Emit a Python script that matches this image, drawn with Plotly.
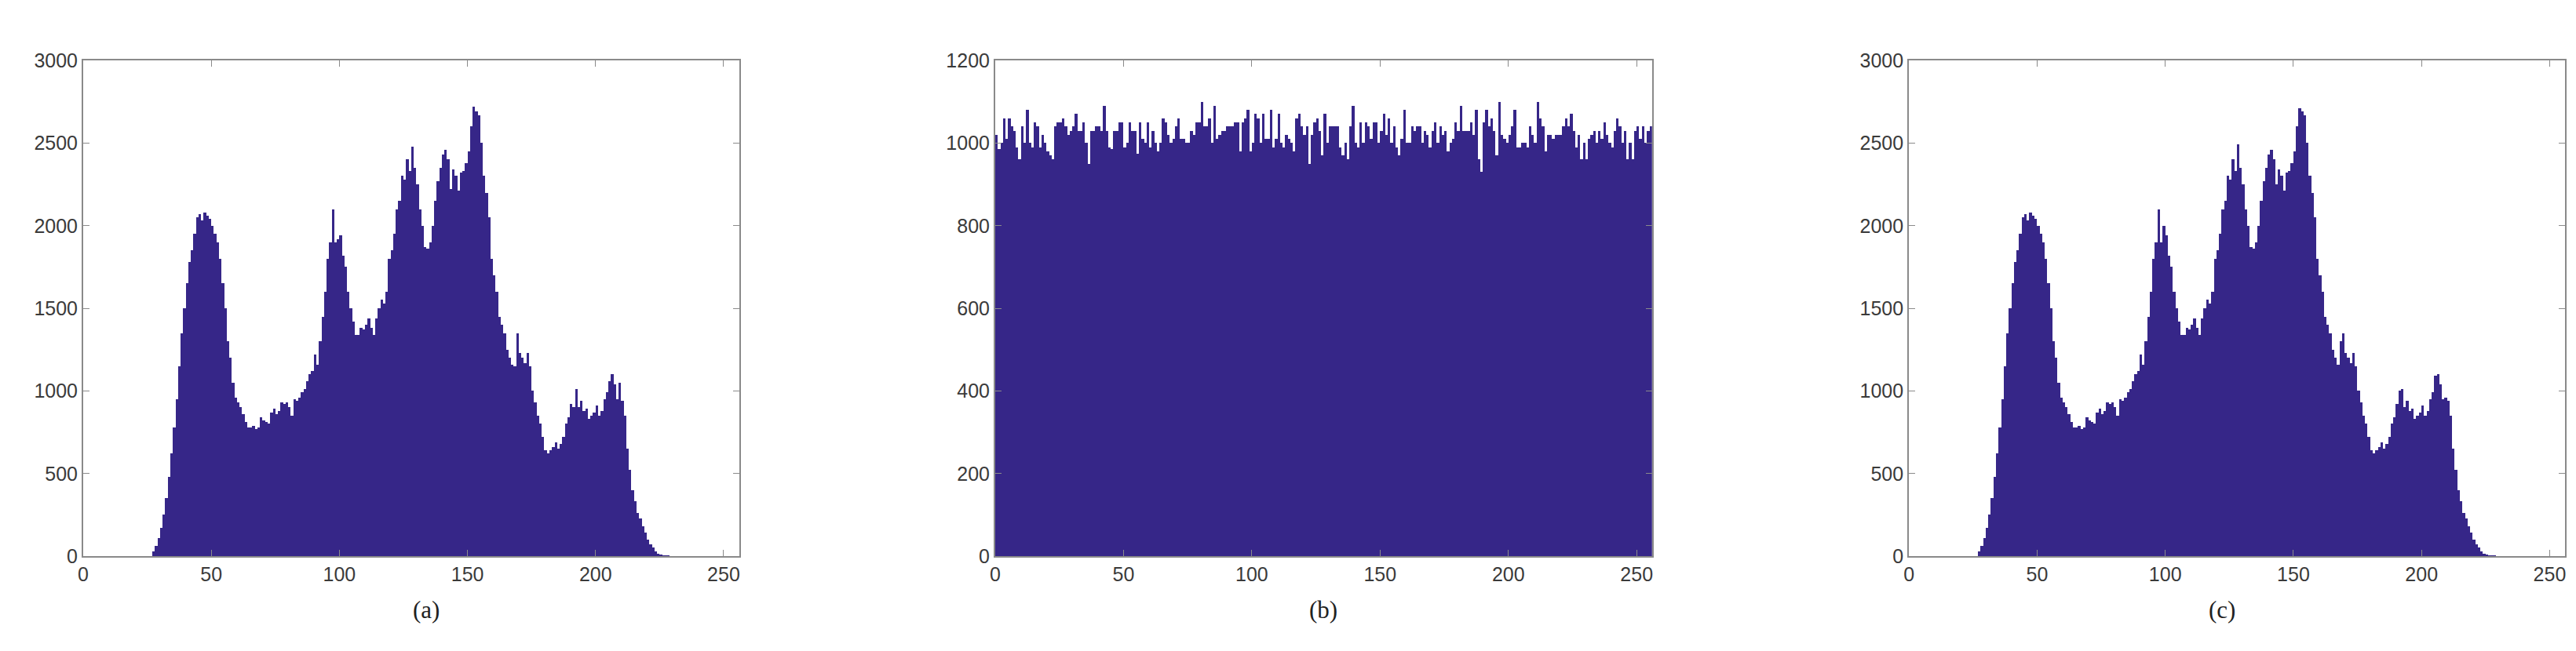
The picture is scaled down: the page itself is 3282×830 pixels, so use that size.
import plotly.graph_objects as go

bins = list(range(256))

hist_a = [0]*27 + [
 30, 60, 110, 170, 250, 350, 480, 620, 780, 950,            # 27-36
 1150, 1350, 1500, 1650, 1780, 1850, 1950, 2050, 2070, 2030, # 37-46
 2080, 2060, 2040, 2000, 1950, 1900, 1800, 1650, 1500, 1300, # 47-56
 1200, 1050, 960, 930, 900, 860, 810, 780, 780, 790,         # 57-66
 770, 780, 840, 820, 810, 800, 870, 890, 860, 880,           # 67-76
 930, 920, 930, 900, 850, 950, 940, 960, 990, 1010,          # 77-86
 1060, 1100, 1120, 1220, 1160, 1300, 1450, 1600, 1800, 1900, # 87-96
 2100, 1900, 1920, 1940, 1820, 1750, 1600, 1500, 1420, 1340, # 97-106
 1340, 1380, 1370, 1400, 1440, 1380, 1340, 1440, 1500, 1550, # 107-116
 1530, 1600, 1800, 1850, 1950, 2100, 2150, 2300, 2280, 2400, # 117-126
 2330, 2480, 2350, 2250, 2100, 2000, 1870, 1860, 1900, 2000, # 127-136
 2150, 2270, 2350, 2430, 2460, 2400, 2220, 2340, 2300, 2210, # 137-146
 2320, 2330, 2380, 2450, 2600, 2720, 2690, 2670, 2500, 2300, # 147-156
 2200, 2050, 1800, 1700, 1600, 1450, 1400, 1350, 1250, 1200, # 157-166
 1160, 1150, 1350, 1230, 1200, 1170, 1230, 1150, 1000, 930,  # 167-176
 850, 800, 720, 640, 620, 640, 660, 690, 650, 680,           # 177-186
 720, 800, 840, 920, 900, 1010, 900, 940, 880, 890,          # 187-196
 830, 850, 870, 910, 850, 880, 950, 990, 1060, 1100,         # 197-206
 1040, 950, 1050, 940, 850, 650, 520, 400, 330, 260,         # 207-216
 230, 180, 140, 100, 70, 50, 30, 15, 8, 4,                   # 217-226
 2, 1, 0,                                                    # 227-229
]
hist_a = hist_a + [0]*(256-len(hist_a))

hist_c = list(hist_a)
hist_c[99] = 2000; hist_c[128] = 2490; hist_c[143] = 2250; hist_c[152] = 2710
hist_c[168] = 1300; hist_c[191] = 1000; hist_c[205] = 1090; hist_c[209] = 960

hist_b = [
 1020,985,1000,1060,1010,1060,1040,1030,990,960, 1040,1000,1080,1000,990,1050,1040,990,1020,1000,
 980,970,960,1040,1050,1050,1060,1040,1020,1030, 1040,1070,1030,1030,1050,1000,950,1030,1030,1040,
 1040,1030,1090,1030,990,985,1030,1030,1050,1050, 990,1000,1050,1030,1030,975,1050,1010,1000,1050,
 990,1030,1000,980,1000,1060,1050,1020,1000,1010, 1040,1060,1010,1010,1000,1000,1030,1020,1050,1050,
 1100,1040,1040,1060,1000,1090,1010,1020,1030,1030, 1040,1040,1040,1050,1050,980,1050,1060,1080,980,
 1000,1070,1060,1000,1070,1010,1010,1080,990,1010, 1070,1000,990,1020,1010,1000,980,1060,1070,1040,
 1020,1040,950,1020,1050,1060,1030,970,1070,1000, 1040,1040,1040,1040,990,970,1000,960,1040,1090,
 1000,990,1050,1000,1050,1040,1010,1050,1050,1000, 1030,1070,1020,1060,1000,1040,990,970,1010,1080,
 1000,1000,1040,1030,1040,1040,1000,1030,1020,990, 1030,1050,1000,1040,1020,1030,980,1000,1010,1050,
 1030,1090,1030,1030,1030,1050,1020,1080,960,930, 1050,1080,1040,1060,1030,970,1100,1020,1010,1000,
 1020,1040,1080,990,990,1000,1000,990,1040,1020, 1000,1100,1060,1040,980,1020,1020,1010,1020,1020,
 1020,1040,1060,1040,1070,1030,990,1020,960,1000, 960,1010,1020,1030,1000,1030,
 1010,1050,1020,1000,990,1030,1060,1040,1000,1030, 960,1000,960,1030,1040,1010,1040,1000,1030,1040,
]
hist_b = hist_b[:256]

COLOR = "rgb(54,38,136)"
labels = ["(a)", "(b)", "(c)"]
xdom = [(0.0278, 0.2830), (0.3827, 0.6383), (0.7383, 0.9936)]
ydom = (0.143, 0.931)
ymax = [3000, 1200, 3000]
ydt = [500, 200, 500]

fig = go.Figure()
for i, h in enumerate([hist_a, hist_b, hist_c]):
    sfx = "" if i == 0 else str(i + 1)
    fig.add_trace(go.Bar(x=[b + 0.5 for b in bins], y=h, width=1,
                         marker=dict(color=COLOR, line=dict(width=0)),
                         xaxis="x" + sfx, yaxis="y" + sfx, showlegend=False))
    ax = dict(showline=True, linecolor="#8a8a8a", linewidth=2, mirror="ticks",
              ticks="inside", ticklen=8, tickcolor="#8a8a8a", showgrid=False,
              zeroline=False, tickfont=dict(family="Liberation Sans", size=25, color="#3a3a3a"))
    fig.layout["xaxis" + sfx] = dict(ax, domain=xdom[i], range=[0, 256], dtick=50,
                                      anchor="y" + sfx)
    fig.layout["yaxis" + sfx] = dict(ax, domain=ydom, range=[0, ymax[i]], dtick=ydt[i],
                                      anchor="x" + sfx)
    fig.add_annotation(text=labels[i], xref="paper", yref="paper",
                       x=(xdom[i][0] + xdom[i][1]) / 2, y=1 - 782 / 830,
                       showarrow=False, yanchor="middle",
                       font=dict(family="Liberation Serif", size=31, color="#222222"))

fig.update_layout(width=3282, height=830, margin=dict(l=0, r=0, t=0, b=0),
                  bargap=0, plot_bgcolor="white", paper_bgcolor="white")
fig.write_html("out.html")
